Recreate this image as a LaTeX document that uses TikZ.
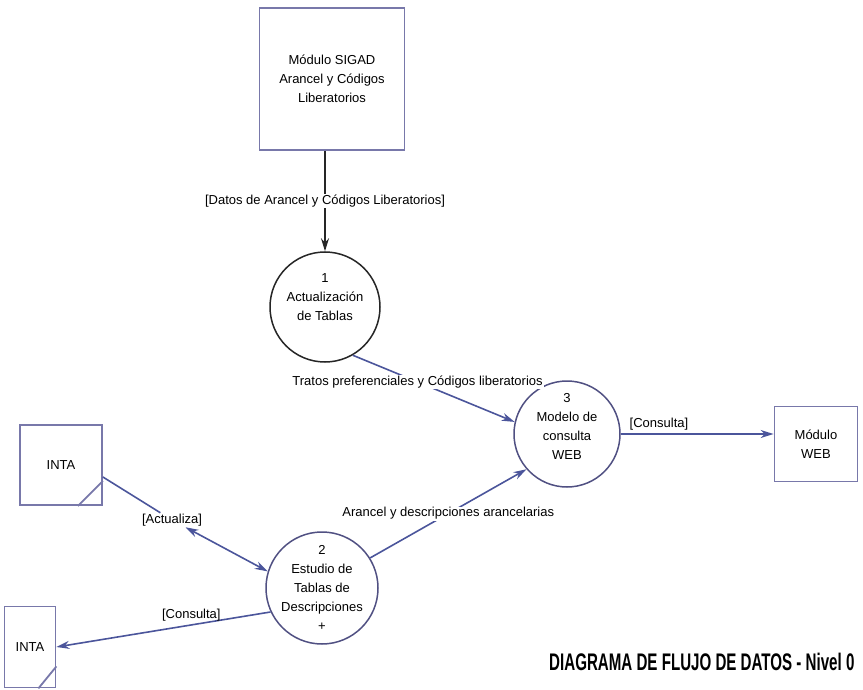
\documentclass[tikz,border=0pt]{standalone}
\usepackage{fontspec}
\setmainfont{Liberation Sans}
\newfontfamily\titlefont{Liberation Sans}[FakeStretch=0.63]
\usetikzlibrary{arrows.meta}
\definecolor{flowblue}{RGB}{75,85,155}
\definecolor{boxline}{RGB}{120,120,170}
\definecolor{procline}{RGB}{80,80,130}

\begin{document}
\begin{tikzpicture}[x=1pt,y=-1pt,
  every node/.style={font=\fontsize{13}{19}\selectfont,align=center},
  entity/.style={draw=boxline,line width=1.8pt,inner sep=0pt},
  process/.style={circle,draw=procline,line width=1.5pt,inner sep=0pt},
  tip/.tip={Stealth[length=13pt,width=8pt]},
  flow/.style={draw=flowblue,line width=1.6pt,-tip},
  lbl/.style={fill=white,inner sep=1pt}]
\useasboundingbox (0,0) rectangle (863,690);
% external entities
\node[entity,minimum width=145pt,minimum height=142pt] (sigad) at (332,79)
  {Módulo SIGAD\\Arancel y Códigos\\Liberatorios};
\node[entity,minimum width=83pt,minimum height=75pt] (web) at (816,444) {Módulo\\WEB};
\node[entity,minimum width=82pt,minimum height=80pt] (inta1) at (61,465) {INTA};
\node[entity,minimum width=51pt,minimum height=81pt] (inta2) at (30,647) {INTA};
\draw[boxline,line width=1.8pt] ([xshift=-25pt]inta1.south east) -- ([yshift=25pt]inta1.south east);
\draw[boxline,line width=1.8pt] ([xshift=-18pt]inta2.south east) -- ([yshift=22pt]inta2.south east);
% processes
\node[process,draw=black!85,minimum size=110pt] (p1) at (325,307) {};
\node (p1txt) at (325,297) {1\\Actualización\\de Tablas};
\node[process,minimum size=112pt] (p2) at (322,588) {};
\node (p2txt) at (322,588) {2\\Estudio de\\Tablas de\\Descripciones\\+};
\node[process,minimum size=106pt] (p3) at (567,434) {};
\node (p3txt) at (567,426) {3\\Modelo de\\consulta\\WEB};
% data flows
\draw[flow,draw=black!85] (sigad.south -| p1) -- node[lbl] {[Datos de Arancel y Códigos Liberatorios]} (p1.north);
\draw[flow] (p1.-60) -- node[lbl,pos=0.4] {Tratos preferenciales y Códigos liberatorios} (p3.167);
\draw[flow] (p2.32) -- node[lbl] {Arancel y descripciones arancelarias} (p3.221);
\draw[flow] (p3.east) -- node[above,pos=0.25] {[Consulta]} (p3.east -| web.west);
\node[lbl] (act) at (172,520) {[Actualiza]};
\draw[flowblue,line width=1.6pt] ([yshift=-12pt]inta1.east) -- (act);
\draw[flow,tip-tip] (act) -- (p2.163);
\draw[flow] (p2.205) -- node[above,pos=0.37] {[Consulta]} (inta2.east);
% title
\node[font=\titlefont\bfseries\fontsize{24}{26}\selectfont,anchor=east] (title) at (858,662)
  {DIAGRAMA DE FLUJO DE DATOS - Nivel 0};
\end{tikzpicture}
\end{document}
